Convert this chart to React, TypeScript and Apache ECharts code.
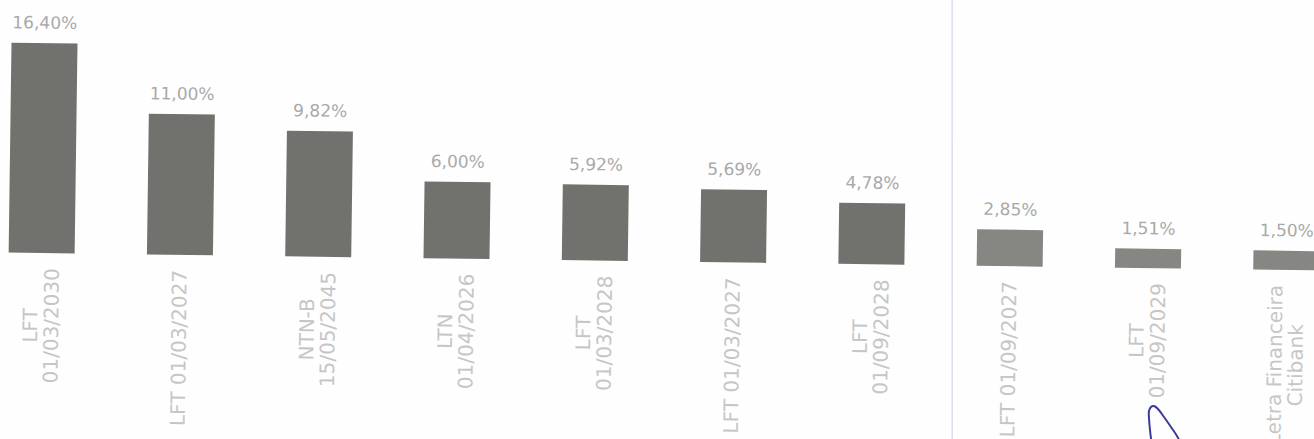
import React, { useEffect, useRef } from "react";
import * as echarts from "echarts";

const categories: string[] = [
  "LFT\n01/03/2030",
  "LFT 01/03/2027",
  "NTN-B\n15/05/2045",
  "LTN\n01/04/2026",
  "LFT\n01/03/2028",
  "LFT 01/03/2027",
  "LFT\n01/09/2028",
  "LFT 01/09/2027",
  "LFT\n01/09/2029",
  "Letra Financeira\nCitibank",
];

const shares: number[] = [16.4, 11.0, 9.82, 6.0, 5.92, 5.69, 4.78, 2.85, 1.51, 1.5];

const FONT = "'DejaVu Sans', 'Noto Sans', sans-serif";
const ANGLE_DEG = 0.78;
const THETA = (ANGLE_DEG * Math.PI) / 180;
const PAGE_H = 439;
const CHART_W = 1383;
const PAD = 30;
const CHART_H = PAGE_H + 2 * PAD;
const OFFSET_X = -27;
const OFFSET_Y = -PAD;

// convert page coordinates to the rotated chart's local coordinates
function toLocal(px: number, py: number): [number, number] {
  const cxp = OFFSET_X + CHART_W / 2;
  const cyp = OFFSET_Y + CHART_H / 2;
  const dx = px - cxp;
  const dy = py - cyp;
  const c = Math.cos(THETA);
  const s = Math.sin(THETA);
  const lx = dx * c + dy * s;
  const ly = -dx * s + dy * c;
  return [lx + CHART_W / 2, ly + CHART_H / 2];
}

export default function App() {
  const ref = useRef<HTMLDivElement>(null);

  useEffect(() => {
    if (!ref.current) return;
    const chart = echarts.init(ref.current, undefined, { renderer: "svg" });

    const divider = toLocal(952, 219.5);
    const scribblePage: [number, number][] = [
      [1152, 446],
      [1150, 430],
      [1149, 418],
      [1149, 411],
      [1151, 407],
      [1154, 406],
      [1158, 409],
      [1164, 417],
      [1171, 427],
      [1177, 436],
      [1182, 446],
    ];
    const scribble = scribblePage.map(([x, y]) => toLocal(x, y));

    chart.setOption({
      animation: false,
      backgroundColor: "transparent",
      grid: { left: 0, right: 0, top: 5.5 + PAD, bottom: 177.5 + PAD, containLabel: false },
      xAxis: {
        type: "category",
        data: categories,
        axisLine: { show: false },
        axisTick: { show: false },
        splitLine: { show: false },
        axisLabel: {
          interval: 0,
          rotate: 90,
          margin: 15,
          formatter: (v: string) =>
            v
              .split("\n")
              .map((s) => `{c|${s}}`)
              .join("\n"),
          rich: {
            c: {
              align: "center",
              fontFamily: FONT,
              fontSize: 20,
              lineHeight: 21,
              color: "#c6c6c6",
            },
          },
        },
      },
      yAxis: {
        type: "value",
        min: 0,
        max: 20,
        show: false,
        splitLine: { show: false },
      },
      series: [
        {
          type: "bar",
          data: shares,
          barWidth: 66,
          itemStyle: {
            color: (p: any) => (p.dataIndex >= 7 ? "#868682" : "#71716e"),
          },
          label: {
            show: true,
            position: "top",
            distance: 12,
            fontFamily: FONT,
            fontSize: 17,
            color: "#a9a9a9",
            formatter: (p: any) => p.value.toFixed(2).replace(".", ",") + "%",
          },
        },
      ],
      graphic: [
        {
          type: "line",
          shape: { x1: divider[0], y1: -40, x2: divider[0], y2: CHART_H + 40 },
          originX: divider[0],
          originY: divider[1],
          rotation: THETA,
          style: { stroke: "#dcdcee", lineWidth: 1.5 },
          silent: true,
        },
        {
          type: "polyline",
          shape: { points: scribble, smooth: 0.4 },
          style: { stroke: "#3b3b9c", lineWidth: 2, fill: "none" },
          silent: true,
        },
      ],
    });

    return () => chart.dispose();
  }, []);

  return (
    <div
      style={{
        position: "fixed",
        left: 0,
        top: 0,
        width: 1314,
        height: PAGE_H,
        overflow: "hidden",
        background: "#fefefe",
      }}
    >
      <div
        ref={ref}
        style={{
          position: "absolute",
          left: OFFSET_X,
          top: OFFSET_Y,
          width: CHART_W,
          height: CHART_H,
          transform: `rotate(${ANGLE_DEG}deg)`,
        }}
      />
    </div>
  );
}
